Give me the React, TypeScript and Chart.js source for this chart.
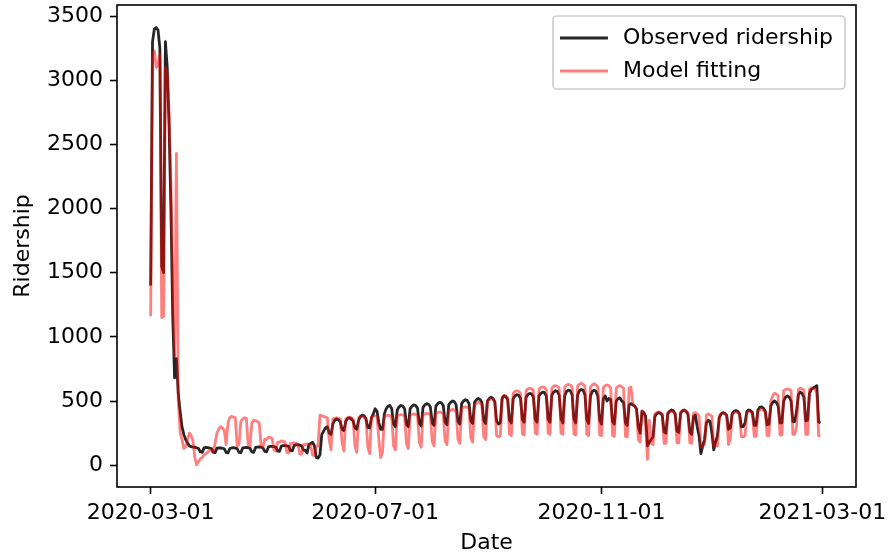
import React, { useEffect, useRef } from 'react';
import { Chart, registerables } from 'chart.js';

Chart.register(...registerables);

// Daily ridership, one row per week (Sunday .. Saturday), starting Sunday 2020-03-01.
const OBSERVED = [
  1400, 3300, 3400, 3410, 3390, 3250, 1550, // 03-01
  1500, 3300, 3100, 2650, 2000, 1150, 680, // 03-08
  830, 560, 420, 300, 240, 200, 175, // 03-15
  150, 145, 140, 140, 135, 130, 105, // 03-22
  100, 135, 138, 136, 134, 130, 102, // 03-29
  98, 132, 135, 134, 132, 128, 100, // 04-05
  96, 130, 134, 136, 133, 129, 100, // 04-12
  98, 134, 137, 138, 136, 131, 104, // 04-19
  100, 138, 141, 142, 140, 135, 108, // 04-26
  104, 142, 146, 147, 145, 140, 110, // 05-03
  108, 148, 152, 153, 150, 146, 114, // 05-10
  112, 154, 158, 160, 157, 150, 118, // 05-17
  115, 95, 160, 170, 178, 150, 60, // 05-24
  55, 80, 240, 265, 290, 300, 250, // 05-31
  240, 320, 350, 360, 355, 340, 280, // 06-07
  270, 340, 365, 370, 360, 345, 290, // 06-14
  280, 350, 380, 390, 385, 360, 295, // 06-21
  290, 370, 400, 440, 420, 330, 280, // 06-28
  280, 400, 440, 460, 465, 440, 320, // 07-05
  300, 430, 455, 465, 460, 440, 320, // 07-12
  300, 440, 460, 470, 465, 445, 325, // 07-19
  305, 450, 470, 480, 475, 455, 330, // 07-26
  310, 460, 480, 490, 485, 465, 335, // 08-02
  315, 470, 490, 500, 495, 470, 340, // 08-09
  320, 480, 500, 510, 505, 480, 345, // 08-16
  325, 490, 510, 520, 512, 490, 350, // 08-23
  325, 500, 520, 530, 520, 495, 345, // 08-30
  320, 330, 520, 540, 535, 510, 350, // 09-06
  330, 520, 540, 550, 545, 520, 355, // 09-13
  335, 530, 550, 560, 555, 530, 355, // 09-20
  335, 540, 560, 570, 565, 540, 360, // 09-27
  335, 545, 570, 580, 575, 545, 360, // 10-04
  330, 540, 575, 585, 580, 550, 360, // 10-11
  330, 545, 580, 590, 585, 550, 355, // 10-18
  325, 540, 575, 585, 575, 540, 350, // 10-25
  320, 520, 540, 500, 520, 510, 340, // 11-01
  320, 500, 520, 525, 500, 490, 330, // 11-08
  310, 470, 480, 470, 460, 440, 300, // 11-15
  250, 420, 410, 380, 150, 180, 200, // 11-22
  220, 380, 400, 410, 405, 390, 260, // 11-29
  250, 400, 420, 430, 425, 400, 265, // 12-06
  255, 405, 425, 430, 420, 395, 260, // 12-13
  240, 380, 390, 300, 230, 90, 150, // 12-20
  200, 330, 350, 340, 250, 120, 180, // 12-27
  230, 370, 400, 410, 405, 390, 280, // 01-03
  290, 400, 420, 425, 420, 400, 300, // 01-10
  300, 330, 420, 430, 425, 410, 310, // 01-17
  310, 430, 450, 455, 445, 420, 315, // 01-24
  320, 460, 490, 500, 490, 460, 330, // 01-31
  330, 500, 530, 540, 530, 500, 340, // 02-07
  340, 420, 550, 570, 560, 530, 345, // 02-14
  350, 560, 590, 600, 610, 620, 336, // 02-21
  330, // 02-28
];

const FITTED = [
  1160, 3180, 3230, 3100, 3120, 3200, 1150, // 03-01
  1160, 3100, 3050, 2750, 2200, 1500, 850, // 03-08
  2430, 500, 260, 200, 130, 140, 200, // 03-15
  250, 230, 190, 60, 2, 30, 50, // 03-22
  60, 80, 90, 100, 120, 115, 100, // 03-29
  170, 250, 280, 300, 290, 270, 160, // 04-05
  330, 370, 380, 375, 370, 150, 160, // 04-12
  340, 360, 370, 365, 160, 150, 330, // 04-19
  350, 345, 340, 330, 150, 140, 200, // 04-26
  200, 220, 215, 210, 120, 110, 180, // 05-03
  180, 190, 185, 180, 100, 95, 170, // 05-10
  170, 175, 170, 165, 90, 85, 160, // 05-17
  160, 165, 160, 150, 80, 75, 150, // 05-24
  150, 390, 385, 380, 375, 370, 200, // 05-31
  120, 360, 365, 370, 365, 360, 180, // 06-07
  110, 360, 370, 375, 370, 360, 150, // 06-14
  100, 370, 375, 380, 375, 365, 140, // 06-21
  90, 375, 380, 385, 380, 200, 60, // 06-28
  100, 380, 385, 390, 385, 375, 150, // 07-05
  120, 385, 390, 395, 390, 380, 170, // 07-12
  130, 390, 395, 400, 395, 385, 180, // 07-19
  140, 395, 400, 405, 400, 390, 185, // 07-26
  150, 400, 410, 415, 410, 400, 190, // 08-02
  160, 420, 430, 435, 430, 420, 200, // 08-09
  170, 440, 450, 455, 450, 440, 210, // 08-16
  180, 470, 480, 490, 485, 470, 220, // 08-23
  200, 500, 510, 520, 515, 500, 230, // 08-30
  220, 230, 530, 545, 540, 525, 240, // 09-06
  230, 560, 575, 580, 575, 560, 245, // 09-13
  235, 580, 595, 600, 595, 580, 250, // 09-20
  240, 590, 605, 610, 605, 590, 250, // 09-27
  240, 600, 615, 620, 615, 600, 250, // 10-04
  240, 610, 625, 630, 625, 610, 245, // 10-11
  235, 615, 630, 640, 630, 615, 240, // 10-18
  230, 610, 625, 635, 625, 610, 235, // 10-25
  230, 605, 620, 625, 620, 600, 230, // 11-01
  225, 600, 615, 620, 610, 600, 225, // 11-08
  220, 600, 610, 480, 460, 440, 200, // 11-15
  180, 425, 410, 300, 45, 350, 170, // 11-22
  160, 400, 410, 415, 410, 400, 170, // 11-29
  170, 410, 420, 420, 415, 405, 175, // 12-06
  175, 415, 420, 425, 420, 410, 175, // 12-13
  170, 405, 410, 400, 380, 140, 150, // 12-20
  160, 390, 400, 390, 380, 150, 150, // 12-27
  150, 380, 400, 405, 400, 390, 160, // 01-03
  200, 400, 410, 415, 410, 400, 220, // 01-10
  220, 230, 410, 420, 415, 405, 225, // 01-17
  225, 420, 430, 440, 430, 420, 230, // 01-24
  230, 500, 540, 560, 555, 540, 235, // 01-31
  235, 580, 590, 595, 590, 580, 240, // 02-07
  240, 300, 590, 600, 595, 585, 240, // 02-14
  240, 590, 600, 605, 594, 560, 229, // 02-21
  235, // 02-28
];

// Date axis: ticks are day offsets from 2020-03-01
const X_TICK_DAYS = [0, 122, 245, 365];
const X_TICK_LABELS = ['2020-03-01', '2020-07-01', '2020-11-01', '2021-03-01'];
const Y_TICKS = [0, 500, 1000, 1500, 2000, 2500, 3000, 3500];

const SERIES_LABELS = ['Observed ridership', 'Model fitting'];
const SERIES_COLORS = ['rgba(0,0,0,0.85)', 'rgba(255,0,0,0.5)'];

const FONT_FAMILY = '"DejaVu Sans", sans-serif';
const FONT_PX = 22;

const toPoints = (values: number[]) => values.map((y, day) => ({ x: day, y }));

// Box frame around the plot area plus a boxed legend in the upper-right corner.
const frameAndLegend = {
  id: 'frameAndLegend',
  afterDraw(chart: any) {
    const { ctx, chartArea: a } = chart;
    ctx.save();
    ctx.strokeStyle = '#000';
    ctx.lineWidth = 1.6;
    ctx.strokeRect(a.left, a.top, a.right - a.left, a.bottom - a.top);

    ctx.font = `${FONT_PX}px ${FONT_FAMILY}`;
    const items = chart.data.datasets.map((ds: any) => ({ label: ds.label, color: ds.borderColor }));
    const textW = Math.max(...items.map((it: any) => ctx.measureText(it.label).width));
    const pad = 7;
    const handle = 48;
    const gap = 15;
    const rowH = 33;
    const w = pad + handle + gap + textW + 12;
    const h = 73;
    const right = a.right - 11;
    const top = a.top + 11;
    const left = right - w;

    ctx.beginPath();
    ctx.roundRect(left, top, w, h, 4);
    ctx.fillStyle = 'rgba(255,255,255,0.8)';
    ctx.fill();
    ctx.strokeStyle = 'rgb(204,204,204)';
    ctx.lineWidth = 1.6;
    ctx.stroke();

    items.forEach((it: any, i: number) => {
      const cy = top + 22 + i * rowH;
      ctx.strokeStyle = it.color;
      ctx.lineWidth = 3;
      ctx.beginPath();
      ctx.moveTo(left + pad, cy);
      ctx.lineTo(left + pad + handle, cy);
      ctx.stroke();
      ctx.fillStyle = '#000';
      ctx.textBaseline = 'middle';
      ctx.textAlign = 'left';
      ctx.fillText(it.label, left + pad + handle + gap, cy);
    });
    ctx.restore();
  },
};

export default function App() {
  const canvasRef = useRef<HTMLCanvasElement | null>(null);

  useEffect(() => {
    const canvas = canvasRef.current;
    if (!canvas) return;
    const font = { family: FONT_FAMILY, size: FONT_PX };

    const chart = new Chart(canvas, {
      type: 'line',
      data: {
        datasets: [
          {
            label: SERIES_LABELS[0],
            data: toPoints(OBSERVED),
            borderColor: SERIES_COLORS[0],
            borderWidth: 2.8,
            pointRadius: 0,
            tension: 0,
            borderJoinStyle: 'round',
            order: 2,
          },
          {
            label: SERIES_LABELS[1],
            data: toPoints(FITTED),
            borderColor: SERIES_COLORS[1],
            borderWidth: 2.8,
            pointRadius: 0,
            tension: 0,
            borderJoinStyle: 'round',
            order: 1,
          },
        ],
      },
      options: {
        animation: false,
        responsive: false,
        devicePixelRatio: 1,
        layout: { autoPadding: false, padding: { left: 0, top: 5, right: 32, bottom: 0 } },
        plugins: { legend: { display: false }, tooltip: { enabled: false } },
        scales: {
          x: {
            type: 'linear',
            min: -18.3,
            max: 383.3,
            afterBuildTicks: (s: any) => {
              s.ticks = X_TICK_DAYS.map((v) => ({ value: v }));
            },
            afterFit: (s: any) => {
              s.height = 69;
              s.paddingLeft = 0;
              s.paddingRight = 0;
            },
            ticks: {
              autoSkip: false,
              maxRotation: 0,
              padding: 6,
              color: '#000',
              font,
              callback: (v: any) => X_TICK_LABELS[X_TICK_DAYS.indexOf(Number(v))] ?? '',
            },
            grid: { drawOnChartArea: false, drawTicks: true, tickLength: 7, tickWidth: 1.6, tickColor: '#000' },
            border: { display: false },
            title: { display: true, text: 'Date', color: '#000', font, padding: { top: 0, bottom: 0 } },
          },
          y: {
            type: 'linear',
            min: -170,
            max: 3586,
            afterBuildTicks: (s: any) => {
              s.ticks = Y_TICKS.map((v) => ({ value: v }));
            },
            afterFit: (s: any) => {
              s.width = 117;
              s.paddingTop = 0;
              s.paddingBottom = 0;
            },
            ticks: { padding: 7, color: '#000', font, callback: (v: any) => String(v) },
            grid: { drawOnChartArea: false, drawTicks: true, tickLength: 7, tickWidth: 1.6, tickColor: '#000' },
            border: { display: false },
            title: { display: true, text: 'Ridership', color: '#000', font, padding: { top: 10, bottom: 0 } },
          },
        },
      },
      plugins: [frameAndLegend],
    } as any);

    return () => chart.destroy();
  }, []);

  return (
    <div style={{ position: 'fixed', left: 0, top: 0, width: 888, height: 556, background: '#fff' }}>
      <canvas ref={canvasRef} width={888} height={556} style={{ width: 888, height: 556 }} />
    </div>
  );
}
